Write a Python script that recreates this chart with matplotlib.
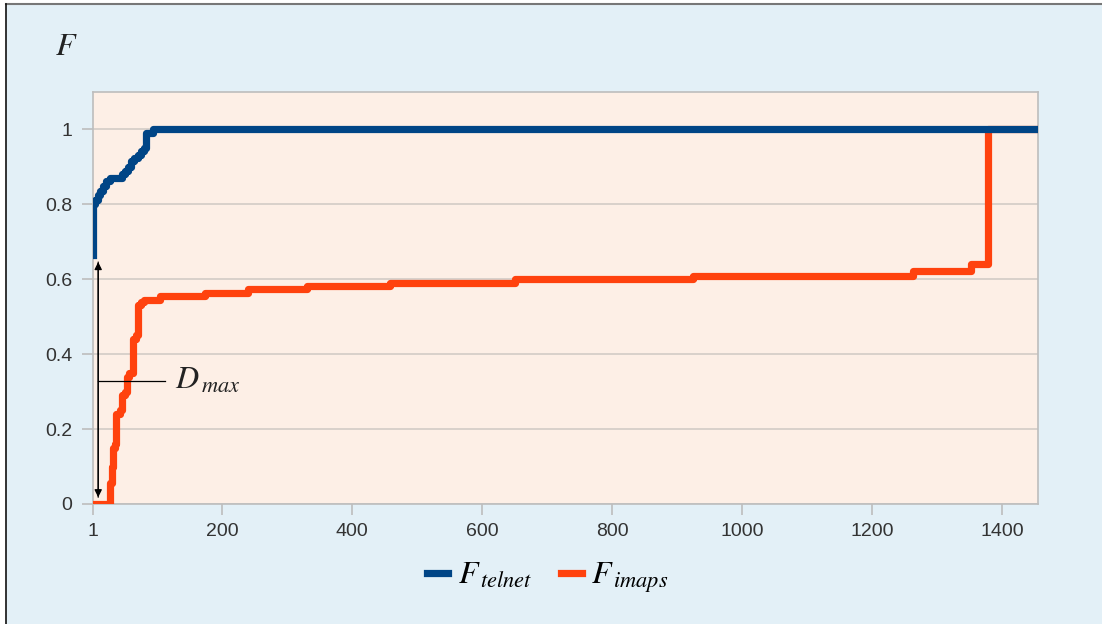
"""
Empirical CDFs of telnet vs imaps samples with the Kolmogorov-Smirnov D_max gap
"""

import matplotlib
matplotlib.use("Agg")
import matplotlib.pyplot as plt
from matplotlib.patches import Rectangle
from matplotlib.lines import Line2D

# step positions (sample index) and CDF levels
TELNET_X = [1, 1, 4, 8, 12, 17, 21, 27, 36, 45, 50, 55, 59, 64, 70, 75, 79, 82, 88, 93, 1455]
TELNET_F = [0.664, 0.80, 0.812, 0.825, 0.835, 0.85, 0.862, 0.87, 0.87, 0.88, 0.89, 0.90,
            0.915, 0.925, 0.932, 0.942, 0.95, 0.99, 0.99, 1.0, 1.0]

IMAPS_X = [1, 27, 30, 32, 35, 37, 42, 45, 50, 54, 57, 63, 67, 71, 75, 80, 104, 173, 240,
           330, 458, 650, 924, 1262, 1352, 1378, 1455]
IMAPS_F = [0.0, 0.056, 0.10, 0.15, 0.16, 0.24, 0.25, 0.29, 0.30, 0.34, 0.35, 0.44, 0.45,
           0.53, 0.54, 0.545, 0.555, 0.563, 0.573, 0.581, 0.59, 0.60, 0.61, 0.622, 0.642,
           1.0, 1.0]

X_TICKS = [1, 200, 400, 600, 800, 1000, 1200, 1400]
Y_TICKS = [0, 0.2, 0.4, 0.6, 0.8, 1]
X_MAX = 1455

# where the D_max arrow sits
DMAX_X = 9
DMAX_TOP = 0.646
DMAX_BOTTOM = 0.018
DMAX_LABEL_Y = 0.328

BLUE = "#004586"
ORANGE = "#ff420e"
LW = 5.2

plt.rcParams["font.family"] = ["Liberation Sans", "DejaVu Sans"]
plt.rcParams["mathtext.fontset"] = "stix"

fig = plt.figure(figsize=(11.02, 6.24), dpi=100, facecolor="white")

# framed light-blue background
W, H = 1102, 624
fig.patches.append(Rectangle((6 / W, 0), 1, 1 - 4 / H, transform=fig.transFigure,
                             facecolor="#e3f0f7", edgecolor="none", zorder=-10))
fig.add_artist(Line2D([6 / W, 1], [1 - 4 / H, 1 - 4 / H], transform=fig.transFigure,
                      color="#777777", lw=1.5, zorder=-5))
fig.add_artist(Line2D([6 / W, 6 / W], [0, 1 - 4 / H], transform=fig.transFigure,
                      color="#111111", lw=1.2, zorder=-5))

ax = fig.add_axes([93 / W, 1 - 504 / H, (1038 - 93) / W, (504 - 92) / H])
ax.set_facecolor("#fdefe6")

ax.plot(IMAPS_X, IMAPS_F, drawstyle="steps-post", color=ORANGE, lw=LW,
        solid_joinstyle="round", label=r"$F_{\,imaps}$", zorder=3)
ax.plot(TELNET_X, TELNET_F, drawstyle="steps-post", color=BLUE, lw=LW,
        solid_joinstyle="round", label=r"$F_{\,telnet}$", zorder=4)

ax.set_xlim(1, X_MAX)
ax.set_ylim(0, 1.1)
ax.set_xticks(X_TICKS)
ax.set_yticks(Y_TICKS)
ax.set_yticklabels([f"{v:g}" for v in Y_TICKS])
ax.yaxis.grid(True, color="#d2cbc6", lw=1.2)
ax.set_axisbelow(True)
for side in ax.spines.values():
    side.set_color("#bdbdbd")
    side.set_linewidth(1.2)
ax.tick_params(axis="both", length=8, width=1.2, color="#bdbdbd",
               labelsize=14, labelcolor="#333333")
ax.tick_params(axis="x", pad=6)
ax.tick_params(axis="y", pad=7)

# D_max: vertical gap between the two curves
ax.annotate("", xy=(DMAX_X, DMAX_TOP), xytext=(DMAX_X, DMAX_BOTTOM),
            arrowprops=dict(arrowstyle="-|>", color="black", lw=0.9,
                            shrinkA=0, shrinkB=0, mutation_scale=11), zorder=5)
ax.annotate("", xy=(DMAX_X, DMAX_BOTTOM), xytext=(DMAX_X, DMAX_TOP),
            arrowprops=dict(arrowstyle="-|>", color="black", lw=0.9,
                            shrinkA=0, shrinkB=0, mutation_scale=11), zorder=5)
ax.plot([DMAX_X, 112], [DMAX_LABEL_Y, DMAX_LABEL_Y], color="black", lw=0.9, zorder=5)
ax.text(127, 0.308, r"$D_{\,max}$", fontsize=23, color="#222222", va="baseline", zorder=5)

fig.text(55 / W, 1 - 55 / H, r"$F$", fontsize=23, color="#222222", va="baseline")

handles, labels = ax.get_legend_handles_labels()
fig.legend(handles[::-1], labels[::-1], loc="center", bbox_to_anchor=(548 / W, 1 - 578 / H),
           ncol=2, frameon=False, fontsize=23, handlelength=0.65, handletextpad=0.3,
           columnspacing=0.9)

fig.savefig("out.png", dpi=100, facecolor=fig.get_facecolor())
